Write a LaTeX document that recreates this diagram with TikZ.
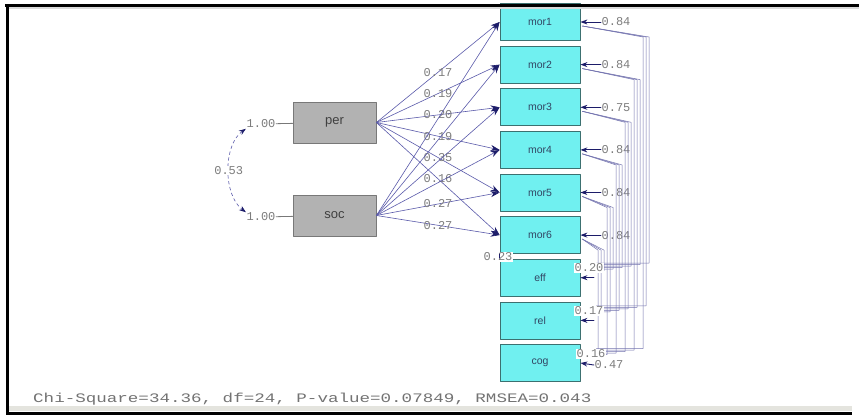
\documentclass[tikz,border=0pt]{standalone}
\usepackage{fontspec}
\usepackage{graphicx}
\setmainfont{Liberation Sans}
\newfontfamily\lismono{Liberation Mono}
\usetikzlibrary{arrows.meta,calc,positioning}
\definecolor{latfill}{RGB}{178,178,178}
\definecolor{latline}{RGB}{120,120,120}
\definecolor{obsfill}{RGB}{112,240,240}
\definecolor{obsline}{RGB}{60,112,112}
\definecolor{obstext}{RGB}{50,70,100}
\definecolor{pathblue}{RGB}{90,90,170}
\definecolor{headblue}{RGB}{28,28,105}
\definecolor{covblue}{RGB}{115,115,175}
\definecolor{numgrey}{RGB}{125,125,125}
\definecolor{bargrey}{RGB}{228,228,222}

\begin{document}
\begin{tikzpicture}[x=1pt,y=-1pt,line cap=round,line join=round,
	latent/.style={draw=latline,fill=latfill,line width=0.8pt,minimum width=83pt,minimum height=41pt,inner sep=0pt,font=\fontsize{13}{13}\selectfont,text=black!75},
	obs/.style={draw=obsline,fill=obsfill,line width=0.8pt,minimum width=80pt,minimum height=37pt,inner sep=0pt,font=\fontsize{10.5}{10.5}\selectfont,text=obstext},
	num/.style={font=\lismono\fontsize{12}{12}\selectfont,text=numgrey,inner sep=0.5pt},
	load/.style={draw=pathblue,line width=0.6pt,-{Stealth[length=9pt,width=6pt,color=headblue]}},
	err/.style={draw=headblue,line width=0.9pt,-{Stealth[length=7pt,width=5pt]}},
	cov/.style={draw=covblue,line width=0.5pt},
	corr/.style={draw=pathblue,line width=0.6pt,dashed,{Stealth[length=7pt,width=5pt,color=headblue]}-{Stealth[length=7pt,width=5pt,color=headblue]}}]
	\useasboundingbox (0,0) rectangle (859,415);
	\fill[white] (0,0) rectangle (859,415);

	% latent variables
	\node[latent] (per) at (334.5,122.5) {per};
	\node[latent] (soc) at (334.5,215.5) {soc};

	% observed variables
	\foreach \i/\y in {1/22.0,2/64.6,3/107.3,4/149.9,5/192.5,6/235.1}
		\node[obs] (m\i) at (540,\y) {mor\i};
	\node[obs] (eff) at (540,277.7) {eff};
	\node[obs] (rel) at (540,320.4) {rel};
	\node[obs] (cog) at (540,363.0) {cog};

	% variances and correlation of per, soc
	\node[num] (vper) at (261,124) {1.00};
	\node[num] (vsoc) at (261,217) {1.00};
	\draw[latline,line width=0.8pt] (vper) -- (per);
	\draw[latline,line width=0.8pt] (vsoc) -- (soc);
	\draw[corr] (vper.south west) .. controls (223,145) and (223,195) .. (vsoc.north west)
		node[num,fill=white,pos=0.5] (phi) {0.53};

	% loadings
	\foreach \i/\v in {1/0.17,2/0.19,3/0.20,4/0.19,5/0.35,6/0.16}
		\draw[load] (per.east) -- node[num,pos=0.5] {\v} (m\i.west);
	\foreach \i in {1,...,4}
		\draw[load] (soc.east) -- (m\i.west);
	\foreach \i/\v in {5/0.27,6/0.27}
		\draw[load] (soc.east) -- node[num,pos=0.5] {\v} (m\i.west);
	\node[num,fill=white] (g23) at (498,257) {0.23};
	\draw[headblue,line width=1pt] (m6.south west) -- ++(0,4);

	% error variances
	\foreach \i/\y/\v in {1/22.0/0.84,2/64.6/0.84,3/107.3/0.75,4/149.9/0.84,5/192.5/0.84,6/235.1/0.84}{
		\node[num] (e\i) at (616,\y) {\v};
		\draw[err] (e\i) -- (m\i);
	}
	\coordinate (teff) at (594,277.7);
	\coordinate (trel) at (594,320.4);
	\node[num] (ecog) at (609,365) {0.47};
	\draw[err] (teff) -- (eff);
	\draw[err] (trel) -- (rel);
	\draw[err] (ecog.west) -- (cog.east);

	% error covariances
	\foreach \i/\y in {1/22.0,2/64.6,3/107.3,4/149.9,5/192.5,6/235.1}
		\foreach \t [count=\k] in {eff,rel,cog}{
			\pgfmathsetmacro\xv{649-9*(\i-1)-3*(\k-1)}
			\draw[cov] ($(m\i.east)+(2,4)$) -- (\xv,\y+15) |- ($(\t.east)+(16,-16+1.5*\i)$);
		}
	\node[num,fill=white] (ceff) at (589,268) {0.20};
	\node[num,fill=white] (crel) at (589,311) {0.17};
	\node[num,fill=white] (ccog) at (591,354) {0.16};

	% frame and fit line
	\fill[black!15] (8.5,6.5) rectangle (859,8.5);
	\fill[black] (5,3.5) rectangle (859,6.5);
	\fill[black] (5.5,3.5) rectangle (8.5,415);
	\fill[bargrey] (8.5,406) rectangle (852,411);
	\fill[black] (5.5,411.5) rectangle (852,415);
	\node[anchor=west,inner sep=0pt,text=black!55] (fit) at (33,399)
		{\scalebox{1.35}[1]{\lismono\fontsize{13}{13}\selectfont Chi-Square=34.36, df=24, P-value=0.07849, RMSEA=0.043}};
\end{tikzpicture}
\end{document}
